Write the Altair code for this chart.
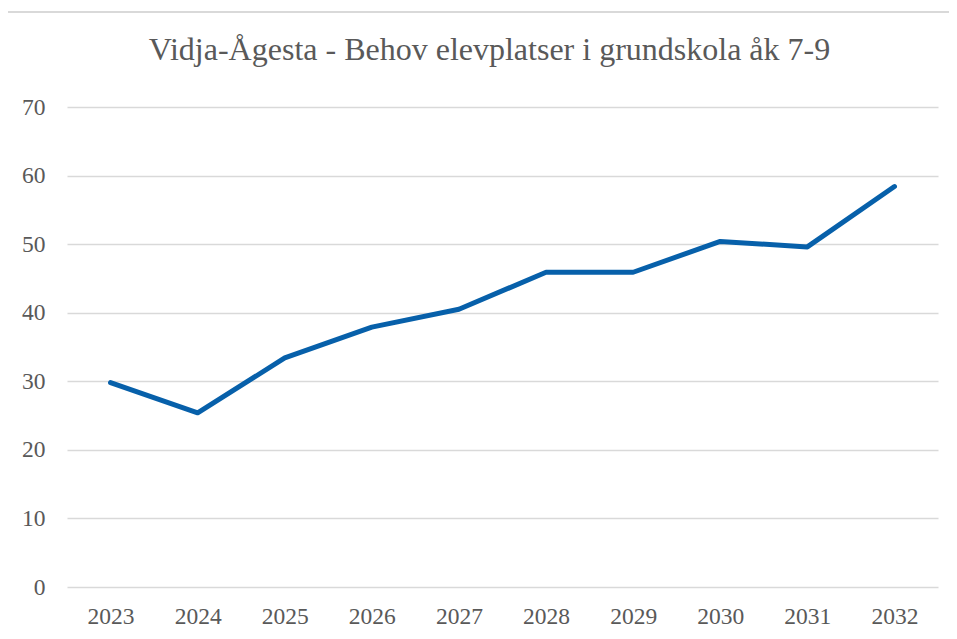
import altair as alt
import pandas as pd

years = ["2023", "2024", "2025", "2026", "2027", "2028", "2029", "2030", "2031", "2032"]
values = [29.8, 25.4, 33.4, 37.9, 40.5, 45.9, 45.9, 50.4, 49.6, 58.4]
y_ticks = [0, 10, 20, 30, 40, 50, 60, 70]
title_text = "Vidja-Ågesta - Behov elevplatser i grundskola åk 7-9"

df = pd.DataFrame({"year": years, "value": values})

FONT = "Liberation Serif"
TXT = "#595959"

line = alt.Chart(df).mark_line(color="#0760AA", strokeWidth=5, strokeCap="round", strokeJoin="round").encode(
    x=alt.X("year:O", sort=years,
            scale=alt.Scale(type="point", padding=0.5),
            axis=alt.Axis(title=None, labelAngle=0, ticks=False, domain=False, grid=False,
                          labelFont=FONT, labelFontSize=23.5, labelColor=TXT, labelPadding=17)),
    y=alt.Y("value:Q",
            scale=alt.Scale(domain=[0, 70], nice=False),
            axis=alt.Axis(title=None, values=y_ticks, ticks=False, domain=False, grid=True,
                          gridColor="#D9D9D9", gridWidth=1.3,
                          labelFont=FONT, labelFontSize=23.5, labelColor=TXT, labelPadding=22)),
)

border_top = alt.Chart(df).mark_rule(color="#D9D9D9", strokeWidth=1.5).encode(
    x=alt.value(-62), x2=alt.value(900), y=alt.value(-95)
)
border_left = alt.Chart(df).mark_rule(color="#D9D9D9", strokeWidth=1.5).encode(
    x=alt.value(-62), y=alt.value(-95), y2=alt.value(560)
)

chart = alt.layer(border_top, border_left, line).properties(
    width=871, height=480,
    title=alt.TitleParams(title_text, font=FONT, fontSize=32, fontWeight="normal", color=TXT,
                          anchor="middle", offset=0, baseline="alphabetic", dy=81, dx=-13),
    padding={"left": 59, "top": 99, "right": 11, "bottom": 44},
    autosize=alt.AutoSizeParams(type="none"),
).configure_view(stroke=None)

chart.save("out.html", embed_options={"renderer": "svg", "actions": False})
